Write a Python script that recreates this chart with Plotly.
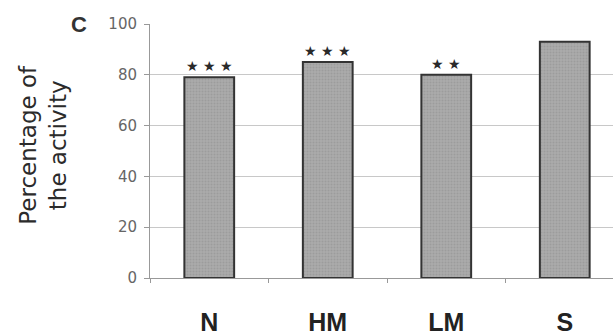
import plotly.graph_objects as go

# Data
categories = ["N", "HM", "LM", "S"]
activity = [79, 85, 80, 93]
significance = ["★ ★ ★", "★ ★ ★", "★ ★", ""]
y_ticks = [0, 20, 40, 60, 80, 100]

W, H = 613, 336
L, R, T, B = 150, 0, 24, 49
plot_w = W - L - R
plot_h = H - T - B
cat_px = 118.5  # pixel width per category slot

fig = go.Figure()
fig.add_trace(go.Bar(
    x=categories,
    y=activity,
    marker=dict(
        color="#a6a6a6",
        line=dict(color="#333333", width=2),
        pattern=dict(shape=".", fgcolor="#8e8e8e", bgcolor="#ababab", size=3, solidity=0.35),
    ),
    width=0.42,
    hoverinfo="skip",
))

# significance stars above bars
for cat, val, stars in zip(categories, activity, significance):
    if stars:
        fig.add_annotation(
            x=cat, y=val, text=stars, showarrow=False,
            yanchor="bottom", yshift=1,
            font=dict(family="DejaVu Sans", size=14, color="#2a2a2a"),
        )

# y-axis title (two lines)
fig.add_annotation(
    xref="paper", yref="paper",
    x=(43 - L) / plot_w, y=(H - B - 149) / plot_h,
    text="Percentage of<br>the activity", showarrow=False,
    textangle=-90, xanchor="center", yanchor="middle",
    font=dict(family="DejaVu Sans", size=23, color="#2b2b2b"),
)

# panel letter
fig.add_annotation(
    xref="paper", yref="paper",
    x=(79 - L) / plot_w, y=(H - B - 25) / plot_h,
    text="<b>C</b>", showarrow=False, xanchor="center", yanchor="middle",
    font=dict(family="Liberation Sans", size=22, color="#333333"),
)

fig.update_layout(
    width=W, height=H,
    margin=dict(l=L, r=R, t=T, b=B, pad=0),
    plot_bgcolor="white", paper_bgcolor="white",
    showlegend=False,
    font=dict(family="DejaVu Sans"),
)
fig.update_xaxes(
    range=[-0.5, -0.5 + plot_w / cat_px],
    tickson="boundaries",
    ticks="outside", ticklen=4, tickcolor="#999999",
    showline=True, linecolor="#999999", linewidth=1,
    showgrid=False,
    tickfont=dict(family="Liberation Sans", size=25, color="#222222", weight="bold"),
    ticklabelstandoff=22,
)
fig.update_yaxes(
    range=[0, 100],
    tickvals=y_ticks,
    ticks="outside", ticklen=5, tickcolor="#999999",
    showline=True, linecolor="#999999", linewidth=1,
    showgrid=True, gridcolor="#c8c8c8", gridwidth=1,
    zeroline=False,
    tickfont=dict(family="DejaVu Sans", size=15, color="#666666"),
    ticklabelstandoff=4,
)

fig.write_html("out.html")
